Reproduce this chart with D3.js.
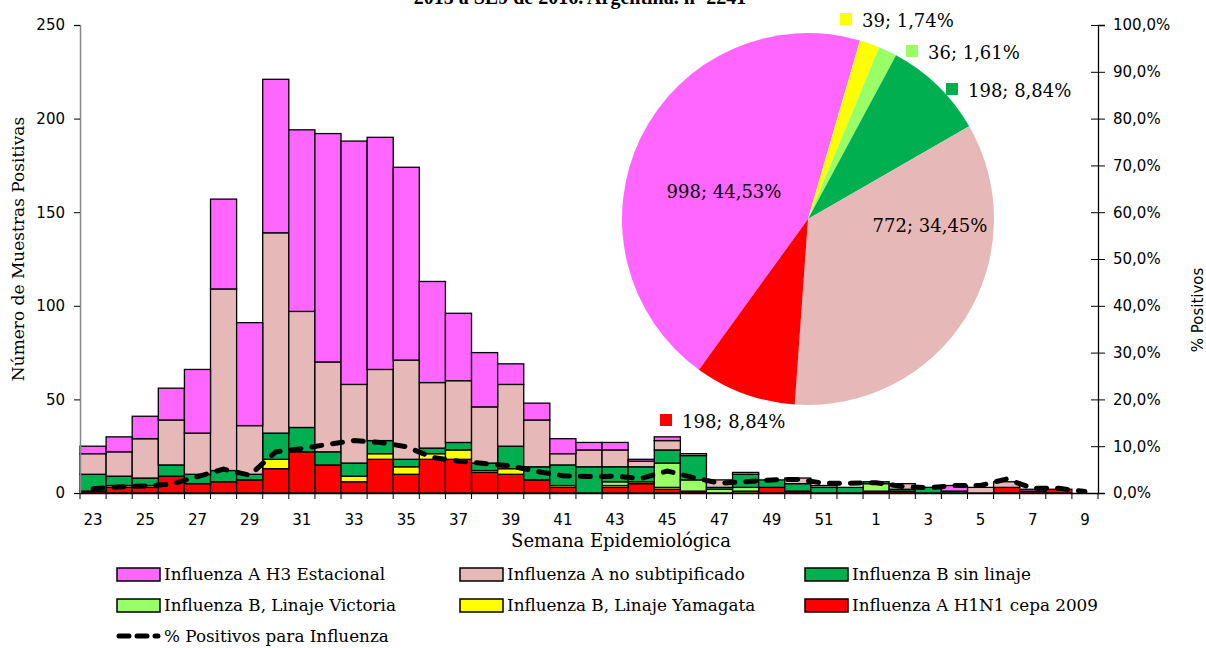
<!DOCTYPE html>
<html>
<head>
<meta charset="utf-8">
<script src="https://cdn.jsdelivr.net/npm/d3@7"></script>
<style>
  body { margin: 0; background: #fff; }
  svg { display: block; }
</style>
</head>
<body>
<div id="chart"></div>
<script>
// semanas epidemiologicas (SE23/2015 a SE9/2016)
var weeks = ["23","24","25","26","27","28","29","30","31","32","33","34","35","36","37","38","39","40","41","42",
             "43","44","45","46","47","48","49","50","51","52","1","2","3","4","5","6","7","8","9"];

// series, stacked bottom -> top
var h1n1      = [1,3,3,9,5,6,7,13,22,15,6,18,10,18,18,11,10,7,3,0,3,5,2,1,0,0,3,1,0,0,1,1,0,0,0,3,1,2,0];
var yamagata  = [0,1,1,0,0,0,0,5,0,0,3,3,4,3,5,1,3,0,1,0,1,1,1,0,0,1,0,0,0,0,0,0,0,0,0,0,0,0,0];
var victoria  = [0,0,0,0,0,0,0,0,0,0,0,0,0,0,0,0,0,0,0,0,2,0,13,6,2,2,0,0,0,0,4,0,0,0,0,0,0,0,0];
var bSinLinaje= [9,5,4,6,5,6,3,14,13,7,7,7,4,3,4,4,12,7,11,14,8,8,7,13,1,7,4,4,3,3,1,1,3,1,0,0,0,0,0];
var aNoSubtip = [11,13,21,24,22,97,26,107,62,48,42,38,53,35,33,30,33,25,6,9,9,3,5,1,4,1,0,3,1,0,0,3,0,0,3,3,0,0,0];
var h3        = [4,8,12,17,34,48,55,82,97,122,130,124,103,54,36,29,11,9,8,4,4,1,2,0,0,0,0,0,0,0,0,0,0,3,0,0,1,0,0];

// % positivos para influenza
var pctPos = [0.9,1.3,1.5,1.9,3.5,5.1,3.8,8.8,9.5,10.4,11.2,10.8,9.9,7.6,6.8,6.3,5.8,4.6,3.7,3.5,
              3.6,3.1,4.7,3.3,2.1,2.4,2.8,2.9,2.1,2.1,2.2,1.4,1.1,1.6,1.6,3.0,1.0,1.0,0.3];

// totales (torta), en el orden de la torta
var pieNames  = ["h3","yamagata","victoria","bSinLinaje","aNoSubtip","h1n1"];
var pieValues = [998,39,36,198,772,198];

var yTicks  = [0,50,100,150,200,250];
var y2Ticks = [0,10,20,30,40,50,60,70,80,90,100];

var keys = ["h1n1","yamagata","victoria","bSinLinaje","aNoSubtip","h3"];
var colors = {
  h1n1: "#FF0000", yamagata: "#FFFF00", victoria: "#99FF66",
  bSinLinaje: "#00B050", aNoSubtip: "#E6B8B7", h3: "#FF66FF"
};
var names = {
  h3: "Influenza A H3 Estacional", aNoSubtip: "Influenza A no subtipificado",
  bSinLinaje: "Influenza B sin linaje", victoria: "Influenza B, Linaje Victoria",
  yamagata: "Influenza B, Linaje Yamagata", h1n1: "Influenza A H1N1 cepa 2009"
};

var W = 1206, H = 648;
var plot = {left: 80, right: 1098, top: 25, bottom: 493};
var serif = "'DejaVu Serif', serif";
var sans = "'DejaVu Sans', sans-serif";

var table = weeks.map(function(w, i) {
  return {week: w, h1n1: h1n1[i], yamagata: yamagata[i], victoria: victoria[i],
          bSinLinaje: bSinLinaje[i], aNoSubtip: aNoSubtip[i], h3: h3[i]};
});

var x = d3.scaleBand().domain(weeks).range([plot.left, plot.right]).padding(0);
var y = d3.scaleLinear().domain([0, 250]).range([plot.bottom, plot.top]);
var y2 = d3.scaleLinear().domain([0, 100]).range([plot.bottom, plot.top]);

var svg = d3.select("#chart").append("svg")
    .attr("width", W)
    .attr("height", H);

// title (cut at the top edge, as in the original)
svg.append("text")
    .attr("x", 580).attr("y", 4)
    .attr("text-anchor", "middle")
    .style("font-family", "'Liberation Serif', serif")
    .style("font-weight", "bold")
    .style("font-size", "20px")
    .text("2015 a SE9 de 2016. Argentina. n=2241");

// stacked bars
var stacked = d3.stack().keys(keys)(table);
svg.append("g").selectAll("g")
    .data(stacked)
  .enter().append("g")
    .attr("fill", function(d) { return colors[d.key]; })
  .selectAll("rect")
    .data(function(d) { return d.filter(function(s) { return s[1] - s[0] > 0; }); })
  .enter().append("rect")
    .attr("x", function(d) { return x(d.data.week); })
    .attr("width", x.bandwidth())
    .attr("y", function(d) { return y(d[1]); })
    .attr("height", function(d) { return y(d[0]) - y(d[1]); })
    .attr("stroke", "#000")
    .attr("stroke-width", 1.3);

// left axis
var gy = svg.append("g")
    .attr("transform", "translate(" + plot.left + ",0)")
    .call(d3.axisLeft(y).tickValues(yTicks).tickSize(6).tickPadding(9));
gy.select(".domain").attr("stroke", "#868686").attr("stroke-width", 1.5);
gy.selectAll(".tick line").attr("stroke", "#000");
gy.selectAll("text").style("font-family", sans).style("font-size", "15px").attr("fill", "#000");

// right axis (%), ticks cross the line
var gy2 = svg.append("g")
    .attr("transform", "translate(" + plot.right + ",0)")
    .call(d3.axisRight(y2).tickValues(y2Ticks).tickSize(7).tickPadding(8)
      .tickFormat(function(d) { return d.toFixed(1).replace(".", ",") + "%"; }));
gy2.select(".domain").attr("stroke", "#000").attr("stroke-width", 1.3);
gy2.selectAll(".tick line").attr("x1", -7).attr("stroke", "#000");
gy2.selectAll("text").style("font-family", sans).style("font-size", "15px").attr("fill", "#000");

// bottom axis: labels every other week, ticks at band edges
var gx = svg.append("g")
    .attr("transform", "translate(0," + plot.bottom + ")")
    .call(d3.axisBottom(x).tickSize(0).tickPadding(21)
      .tickFormat(function(d, i) { return i % 2 === 0 ? d : ""; }));
gx.select(".domain").attr("stroke", "#000").attr("stroke-width", 1.3);
gx.selectAll("text").style("font-family", sans).style("font-size", "15px").attr("fill", "#000");
gx.selectAll(".edge")
    .data(weeks.concat(["end"]))
  .enter().append("line")
    .attr("class", "edge")
    .attr("x1", function(d) { return d === "end" ? plot.right : x(d); })
    .attr("x2", function(d) { return d === "end" ? plot.right : x(d); })
    .attr("y1", 0).attr("y2", 6)
    .attr("stroke", "#000");

// % positivos line
var line = d3.line()
    .x(function(d, i) { return x(weeks[i]) + x.bandwidth() / 2; })
    .y(function(d) { return y2(d); });
svg.append("path")
    .datum(pctPos)
    .attr("fill", "none")
    .attr("stroke", "#000")
    .attr("stroke-width", 5)
    .attr("stroke-linecap", "round")
    .attr("stroke-dasharray", "10,11")
    .attr("d", line);

// axis titles
svg.append("text")
    .attr("transform", "translate(24,249) rotate(-90)")
    .attr("text-anchor", "middle")
    .style("font-family", serif).style("font-size", "17px")
    .text("Número de Muestras Positivas");
svg.append("text")
    .attr("transform", "translate(1203,310) rotate(-90)")
    .attr("text-anchor", "middle")
    .style("font-family", sans).style("font-size", "15px")
    .text("% Positivos");
svg.append("text")
    .attr("x", 621).attr("y", 547)
    .attr("text-anchor", "middle")
    .style("font-family", serif).style("font-size", "18px")
    .text("Semana Epidemiológica");

// pie
var pieCenter = [808, 219], pieR = 186;
var pieStart = -144.1 * Math.PI / 180;
var total = d3.sum(pieValues);
var pie = d3.pie().sort(null).startAngle(pieStart).endAngle(pieStart + 2 * Math.PI);
var arc = d3.arc().innerRadius(0).outerRadius(pieR);
var gp = svg.append("g").attr("transform", "translate(" + pieCenter[0] + "," + pieCenter[1] + ")");
gp.selectAll("path")
    .data(pie(pieValues))
  .enter().append("path")
    .attr("d", arc)
    .attr("fill", function(d, i) { return colors[pieNames[i]]; });

// pie labels: [dx, dy, key square?] relative to pie center
var pieLabelPos = [[-84, -21, false], [54, -192, true], [120, -160, true],
                   [160, -122, true], [122, 13, false], [-126, 209, true]];
pieValues.forEach(function(v, i) {
  var p = pieLabelPos[i];
  var txt = v + "; " + (v / total * 100).toFixed(2).replace(".", ",") + "%";
  if (p[2]) {
    gp.append("rect")
        .attr("x", p[0] - 22).attr("y", p[1] - 14)
        .attr("width", 12).attr("height", 12)
        .attr("fill", colors[pieNames[i]]);
  }
  gp.append("text")
      .attr("x", p[0]).attr("y", p[1])
      .attr("text-anchor", p[2] ? "start" : "middle")
      .style("font-family", serif).style("font-size", "18px")
      .text(txt);
});

// legend
var legendItems = ["h3","aNoSubtip","bSinLinaje","victoria","yamagata","h1n1"];
var colX = [117, 460, 805], rowY = [574, 605, 636];
var lg = svg.append("g");
legendItems.forEach(function(k, i) {
  var cx = colX[i % 3], cy = rowY[Math.floor(i / 3)];
  lg.append("rect")
      .attr("x", cx).attr("y", cy - 6)
      .attr("width", 43).attr("height", 13)
      .attr("fill", colors[k]).attr("stroke", "#000").attr("stroke-width", 1.5);
  lg.append("text")
      .attr("x", cx + 47).attr("y", cy + 6)
      .style("font-family", serif).style("font-size", "16.8px")
      .text(names[k]);
});
lg.append("line")
    .attr("x1", 119).attr("x2", 158)
    .attr("y1", rowY[2]).attr("y2", rowY[2])
    .attr("stroke", "#000").attr("stroke-width", 5)
    .attr("stroke-linecap", "round").attr("stroke-dasharray", "10,8");
lg.append("text")
    .attr("x", 164).attr("y", rowY[2] + 6)
    .style("font-family", serif).style("font-size", "16.8px")
    .text("% Positivos para Influenza");
</script>
</body>
</html>
